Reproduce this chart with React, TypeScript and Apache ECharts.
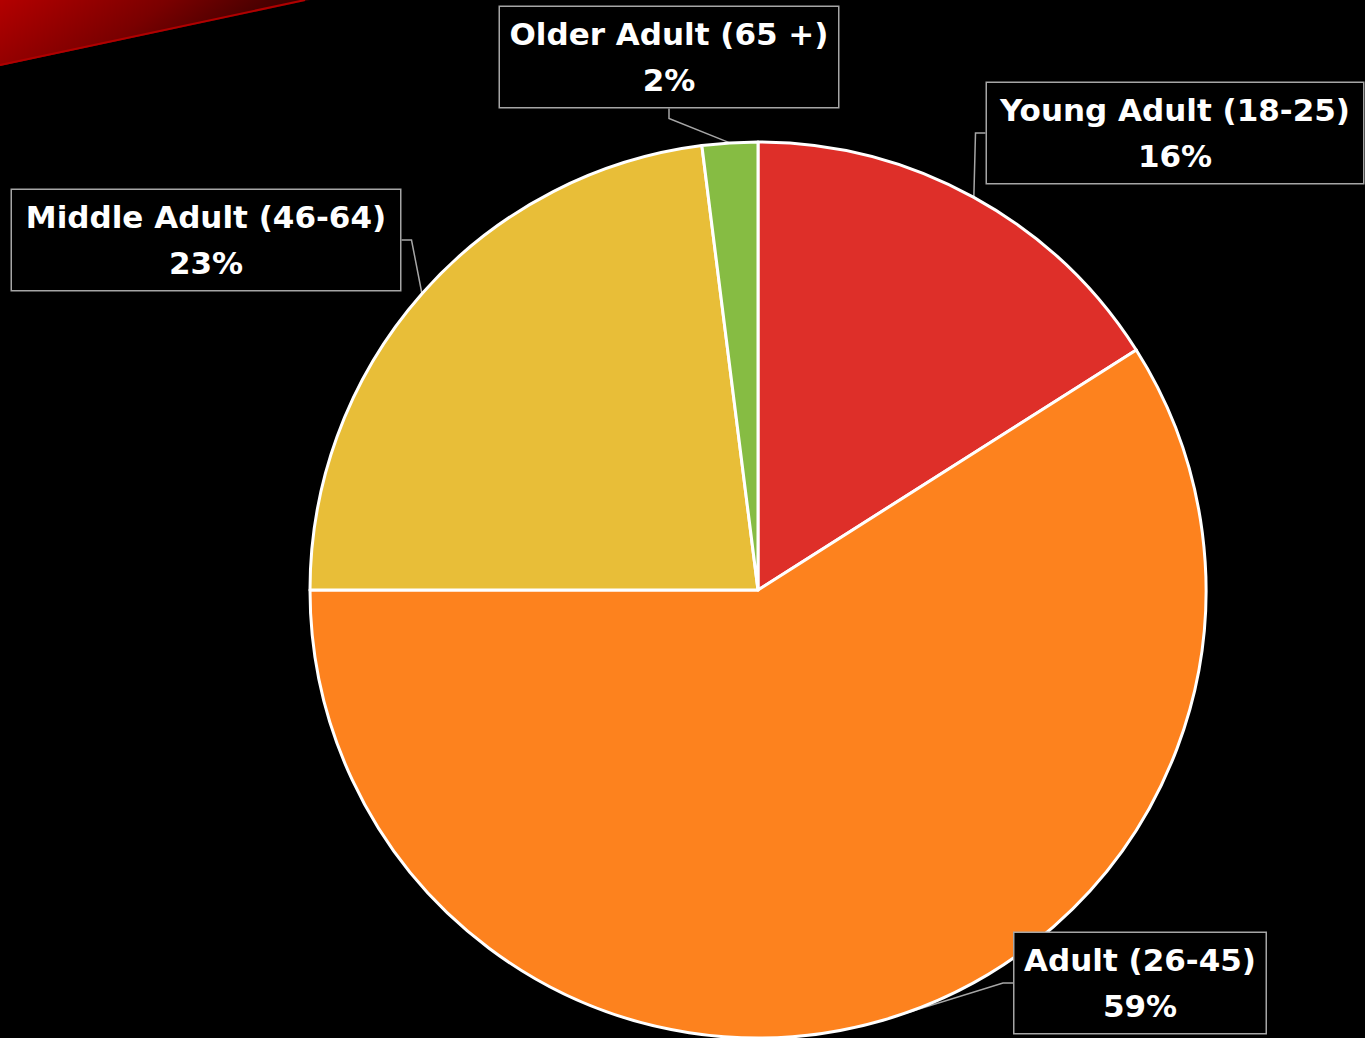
import React, { useEffect, useRef } from "react";
import * as echarts from "echarts";

const categories = ["Young Adult (18-25)", "Adult (26-45)", "Middle Adult (46-64)", "Older Adult (65 +)"];
const values = [16, 59, 23, 2];
const colors = ["#DE2F29", "#FD821E", "#E8BE38", "#86BC43"];

// label box layout (center x, center y, box width)
const labelCx = [1175, 1140, 206, 669];
const labelCy = [133, 983, 240, 57];
const labelW = [376, 251, 388, 338];

export default function App() {
  const ref = useRef<HTMLDivElement>(null);
  useEffect(() => {
    if (!ref.current) return;
    const chart = echarts.init(ref.current, null, { renderer: "svg" });
    const data = categories.map((name, i) => ({
      name,
      value: values[i],
      itemStyle: { color: colors[i] },
      label: { width: labelW[i] - 4 },
    }));
    chart.setOption({
      animation: false,
      backgroundColor: "#000000",
      graphic: [
        {
          type: "polygon",
          shape: { points: [[0, 0], [310, 0], [0, 66]] },
          style: {
            fill: new echarts.graphic.LinearGradient(0, 0, 1, 0.3, [
              { offset: 0, color: "#b30000" },
              { offset: 0.5, color: "#7a0000" },
              { offset: 1, color: "#2a0000" },
            ]),
          },
          z: 0,
        },
        {
          type: "line",
          shape: { x1: 0, y1: 65, x2: 305, y2: 0 },
          style: { stroke: "#b00000", lineWidth: 2 },
          z: 0,
        },
      ],
      series: [
        {
          type: "pie",
          center: [758, 590],
          radius: 448,
          startAngle: 90,
          clockwise: true,
          data,
          itemStyle: { borderColor: "#ffffff", borderWidth: 3 },
          label: {
            show: true,
            formatter: "{b}\n{d}%",
            color: "#ffffff",
            fontFamily: "DejaVu Sans",
            fontWeight: "bold",
            fontSize: 31,
            lineHeight: 46,
            align: "center",
            backgroundColor: "#000000",
            borderColor: "#a6a6a6",
            borderWidth: 1.5,
            padding: [5, 2, 3, 2],
          },
          labelLine: {
            show: true,
            length: 10,
            length2: 10,
            lineStyle: { color: "#a6a6a6", width: 1.5 },
          },
          labelLayout: (params: any) => ({
            x: labelCx[params.dataIndex],
            y: labelCy[params.dataIndex],
            align: "center",
            verticalAlign: "middle",
          }),
        },
      ],
    });
    return () => chart.dispose();
  }, []);
  return (
    <div
      ref={ref}
      style={{ position: "fixed", left: 0, top: 0, width: 1365, height: 1038, background: "#000" }}
    />
  );
}
